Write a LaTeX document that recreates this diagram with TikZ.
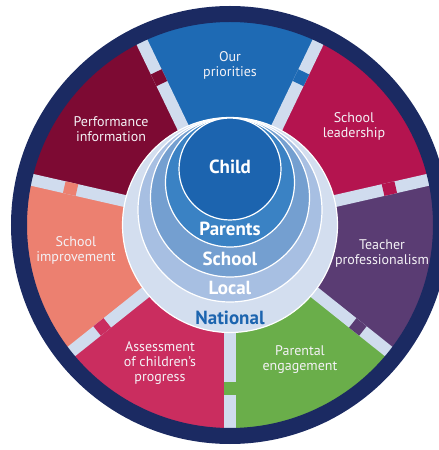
\documentclass[tikz,border=0pt]{standalone}
\usepackage{fontspec}
\setmainfont{PT Sans}
\definecolor{rim}{HTML}{1B2A62}
\definecolor{barlight}{HTML}{D0DCEE}
\definecolor{cPriorities}{HTML}{1E6AB4}
\definecolor{cLeadership}{HTML}{B4144F}
\definecolor{cTeacher}{HTML}{5A3C73}
\definecolor{cParental}{HTML}{6AAE4A}
\definecolor{cAssessment}{HTML}{CA2D5F}
\definecolor{cImprovement}{HTML}{EC8070}
\definecolor{cPerformance}{HTML}{7D0A33}
\definecolor{rNational}{HTML}{D3DEEF}
\definecolor{rLocal}{HTML}{A7BFE2}
\definecolor{rSchool}{HTML}{749FD0}
\definecolor{rParents}{HTML}{3A82C4}
\definecolor{rChild}{HTML}{1C64AF}
\definecolor{captiontext}{HTML}{F4F2F6}
\begin{document}
\begin{tikzpicture}[x=1pt,y=1pt,
  bar/.style={line width=12pt, line cap=butt},
  ring/.style={draw=white, line width=1.2pt},
  wlabel/.style={text=captiontext, align=center, inner sep=0pt,
    font=\fontsize{14}{15}\selectfont},
  rlabel/.style={text=white, inner sep=0pt,
    font=\fontsize{19}{21}\selectfont\bfseries}]
\useasboundingbox (0,0) rectangle (439,450);
\clip (0,0) rectangle (439,450);
\coordinate (O) at (230,225);

% seven coloured sectors, starting at the bottom and going anticlockwise
\foreach \k/\c in {0/cParental,1/cTeacher,2/cLeadership,3/cPriorities,
                   4/cPerformance,5/cImprovement,6/cAssessment}{
  \pgfmathsetmacro\s{-90+\k*360/7}
  \pgfmathsetmacro\e{-90+(\k+1)*360/7}
  \fill[\c] (O) -- ([shift={(\s:215)}]O)
    arc[start angle=\s, end angle=\e, radius=215] -- cycle;
}

% light separators, each broken by a tab of the sector on its anticlockwise side
\foreach \k/\c in {0/cParental,1/cTeacher,2/cLeadership,3/cPriorities,
                   4/cPerformance,5/cImprovement,6/cAssessment}{
  \pgfmathsetmacro\s{-90+\k*360/7}
  \draw[bar, barlight] ([shift={(\s:100)}]O) -- ([shift={(\s:215)}]O);
  \draw[bar, \c] ([shift={(\s:157)}]O) -- ([shift={(\s:170)}]O);
}

% dark outer rim
\draw[rim, line width=16pt] (O) circle (211);

% nested circles, all touching near the top
\filldraw[ring, fill=rNational] (230,225) circle (107.5);
\filldraw[ring, fill=rLocal] (230,240) circle (92);
\filldraw[ring, fill=rSchool] (230,252.5) circle (79.5);
\filldraw[ring, fill=rParents] (230,267.5) circle (64.5);
\filldraw[ring, fill=rChild] (230,281) circle (51);

\node[rlabel] (child) at (230,283) {Child};
\node[rlabel] (parents) at (230,221) {Parents};
\node[rlabel] (school) at (230,191) {School};
\node[rlabel] (local) at (230,162) {Local};
\node[rlabel, text=rChild] (national) at (230,132) {National};

% sector captions
\node[wlabel] (priorities) at (230,384.5) {Our\\priorities};
\node[wlabel] (performance) at (111,320.5) {Performance\\information};
\node[wlabel] (leadership) at (354,324) {School\\leadership};
\node[wlabel] (improvement) at (76,199.5) {School\\improvement};
\node[wlabel] (teacher) at (382,196) {Teacher\\professionalism};
\node[wlabel] (parental) at (300,90.5) {Parental\\engagement};
\node[wlabel] (assessment) at (160,87) {Assessment\\of children's\\progress};
\end{tikzpicture}
\end{document}
